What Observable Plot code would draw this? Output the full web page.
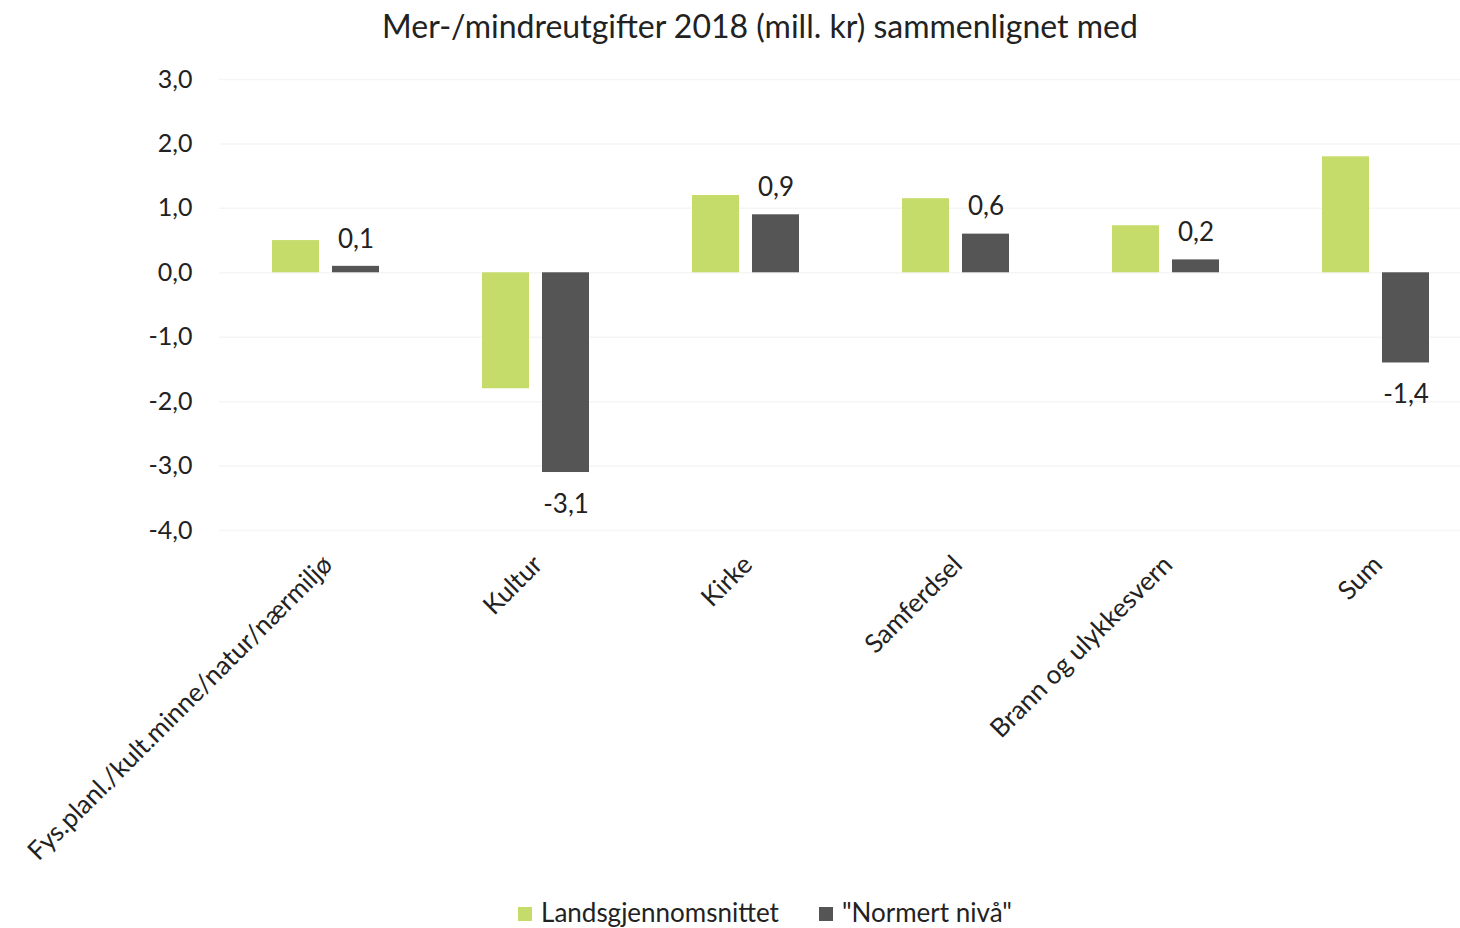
<!DOCTYPE html>
<html>
<head>
<meta charset="utf-8">
<script src="https://cdn.jsdelivr.net/npm/d3@7"></script>
<script src="https://cdn.jsdelivr.net/npm/@observablehq/plot@0.6"></script>
<style>
  html, body { margin: 0; padding: 0; background: #fff; overflow: hidden; width: 1460px; height: 928px; }
  body { font-family: Lato, "Open Sans", sans-serif; color: #222; position: relative; }
  #title { position: absolute; left: 0; top: 0; width: 1520px; height: 50px; line-height: 52px; text-align: center; font-size: 32px; color: #222; }
  #chart { position: absolute; left: 0; top: 50px; width: 1481px; }
  #chart svg { max-width: none !important; }
  #legend { position: absolute; left: 0; top: 896px; width: 1530px; text-align: center; font-size: 26px; color: #222; }
  .sw { display: inline-block; width: 14px; height: 14px; margin-right: 9px; vertical-align: 1px; }
  .item { display: inline-block; margin: 0 20px; }
</style>
</head>
<body>
<div id="title">Mer-/mindreutgifter 2018 (mill. kr) sammenlignet med</div>
<div id="chart"></div>
<div id="legend"></div>
<script>
const categories = ["Fys.planl./kult.minne/natur/nærmiljø", "Kultur", "Kirke", "Samferdsel", "Brann og ulykkesvern", "Sum"];
const landsgjennomsnittet = [0.5, -1.8, 1.2, 1.15, 0.73, 1.8];
const normertNiva = [0.1, -3.1, 0.9, 0.6, 0.2, -1.4];
const seriesNames = ["Landsgjennomsnittet", "\"Normert nivå\""];
const seriesColors = ["#c5dc6a", "#555555"];
const yTicks = [3, 2, 1, 0, -1, -2, -3, -4];

const fmt = d => d.toFixed(1).replace(".", ",");
const lands = categories.map((c, i) => ({cat: c, value: landsgjennomsnittet[i]}));
const norm = categories.map((c, i) => ({cat: c, value: normertNiva[i]}));

const chart = Plot.plot({
  width: 1481,
  height: 840,
  marginLeft: 219,
  marginRight: 0,
  marginTop: 29,
  marginBottom: 360,
  style: {fontFamily: "Lato, 'Open Sans', sans-serif", fontSize: "25px", color: "#222", background: "transparent", overflow: "visible", maxWidth: "none"},
  x: {domain: categories, paddingInner: 0.7765, paddingOuter: 0.388, label: null},
  y: {domain: [-4, 3], label: null},
  marks: [
    Plot.ruleY(yTicks, {stroke: "#f5f5f5", strokeWidth: 1.5}),
    Plot.barY(lands, {x: "cat", y: "value", fill: seriesColors[0], dx: -30}),
    Plot.barY(norm, {x: "cat", y: "value", fill: seriesColors[1], dx: 30}),
    Plot.text(norm.filter(d => d.value >= 0), {x: "cat", y: "value", text: d => fmt(d.value), dx: 30, dy: -27, fill: "#222", fontSize: 26}),
    Plot.text(norm.filter(d => d.value < 0), {x: "cat", y: "value", text: d => fmt(d.value), dx: 30, dy: 32, fill: "#222", fontSize: 26}),
    Plot.axisY({ticks: yTicks, tickFormat: fmt, tickSize: 0, tickPadding: 27, fontSize: 25, fill: "#222"}),
    Plot.axisX({tickRotate: -45, tickSize: 0, tickPadding: 30, dx: 2, fontSize: 26, fill: "#222", label: null})
  ]
});
document.getElementById("chart").appendChild(chart);

const legend = document.getElementById("legend");
seriesNames.forEach((name, i) => {
  const item = document.createElement("span");
  item.className = "item";
  const sw = document.createElement("span");
  sw.className = "sw";
  sw.style.background = seriesColors[i];
  item.appendChild(sw);
  item.appendChild(document.createTextNode(name));
  legend.appendChild(item);
});
</script>
</body>
</html>
